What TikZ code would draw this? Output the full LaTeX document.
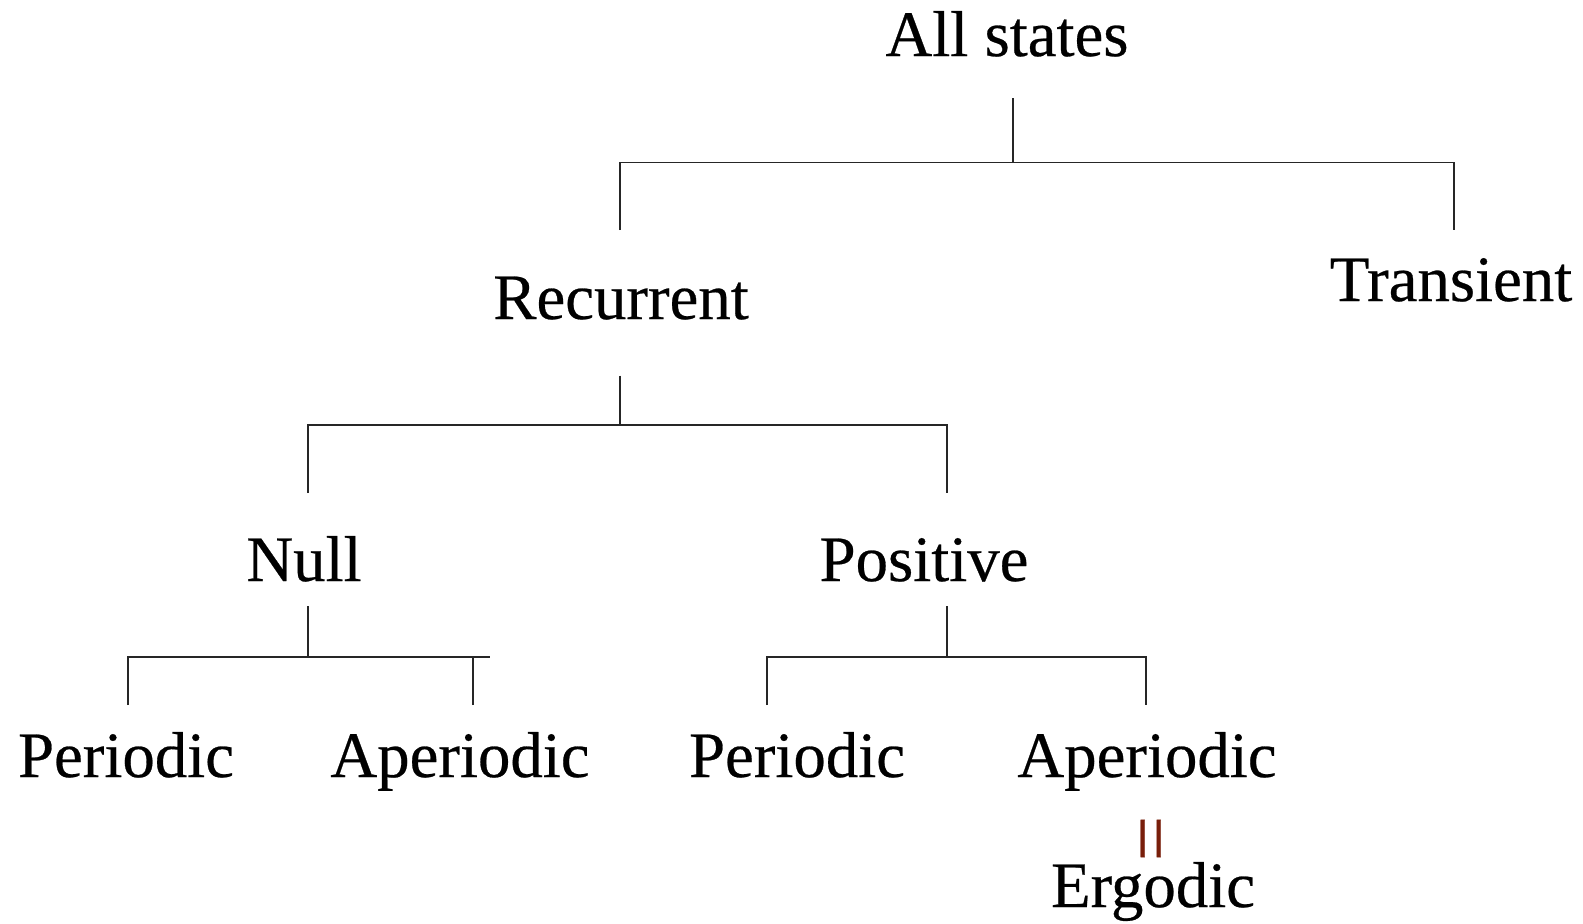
\documentclass[tikz,border=0pt]{standalone}
\usepackage{fontspec}
\setmainfont[FakeBold=0.4]{Liberation Serif}
\definecolor{eqred}{RGB}{120,30,10}
\begin{document}
\begin{tikzpicture}[x=0.5pt,y=-0.5pt,
  lbl/.style={inner sep=0pt, anchor=base, font=\fontsize{32.4}{38}\selectfont},
  link/.style={line width=0.9pt, draw=black!85}]
\useasboundingbox (0,0) rectangle (1583,923);

% labels
\node[lbl] (all) at (1007,56) {All states};
\node[lbl] (rec) at (621,319) {Recurrent};
\node[lbl] (tra) at (1451,301) {Transient};
\node[lbl] (nul) at (304,581) {Null};
\node[lbl] (pos) at (924,581) {Positive};
\node[lbl] (np) at (126,777) {Periodic};
\node[lbl] (na) at (460,777) {Aperiodic};
\node[lbl] (pp) at (797,777) {Periodic};
\node[lbl] (pa) at (1147,777) {Aperiodic};
\node[lbl] (erg) at (1153,907) {Ergodic};
\node[inner sep=0pt, rotate=90, text=eqred, font=\fontsize{40}{40}\selectfont] (eq) at (1159,838.5) {=};

% line ends of the brackets
\coordinate (all-s) at (1013,98);
\coordinate (all-j) at (1013,162.5);
\coordinate (rec-n) at (620,230);
\coordinate (tra-n) at (1454,230);

\coordinate (rec-s) at (620,375.5);
\coordinate (rec-j) at (620,425);
\coordinate (nul-n) at (308,493);
\coordinate (pos-n) at (947,493);

\coordinate (nul-s) at (308,606);
\coordinate (nul-j) at (308,657);
\coordinate (nul-e) at (490,657);
\coordinate (np-n) at (128,705);
\coordinate (na-n) at (473,705);

\coordinate (pos-s) at (947,606);
\coordinate (pos-j) at (947,657);
\coordinate (pp-n) at (767,705);
\coordinate (pa-n) at (1146,705);

% connectors
\draw[link] (all-s) -- (all-j);
\draw[link] (rec-n) |- (all-j) -| (tra-n);

\draw[link] (rec-s) -- (rec-j);
\draw[link] (nul-n) |- (rec-j) -| (pos-n);

\draw[link] (nul-s) -- (nul-j);
\draw[link] (np-n) |- (nul-e);
\draw[link] (na-n) -- (na-n |- nul-j);

\draw[link] (pos-s) -- (pos-j);
\draw[link] (pp-n) |- (pos-j) -| (pa-n);
\end{tikzpicture}
\end{document}
